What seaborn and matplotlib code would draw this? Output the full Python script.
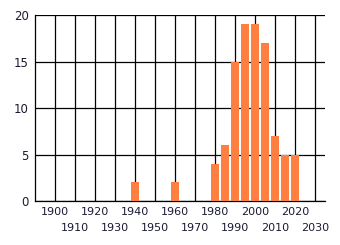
import matplotlib
matplotlib.use("Agg")
import matplotlib.pyplot as plt
import seaborn as sns
import pandas as pd

years = [1940, 1960, 1980, 1985, 1990, 1995, 2000, 2005, 2010, 2015, 2020]
counts = [2, 2, 4, 6, 15, 19, 19, 17, 7, 5, 5]
even_decades = [1900, 1920, 1940, 1960, 1980, 2000, 2020]
odd_decades = [1910, 1930, 1950, 1970, 1990, 2010, 2030]
y_ticks = [0, 5, 10, 15, 20]

df = pd.DataFrame({"year": years, "count": counts})

sns.set_style("white")
plt.rcParams["font.family"] = ["DejaVu Sans"]

fig = plt.figure(figsize=(3.4, 2.45), dpi=100)
ax = fig.add_axes([35/340, 44/245, 290/340, 186/245])

sns.barplot(data=df, x="year", y="count", native_scale=True, width=0.8,
            color="#FF7F40", saturation=1, linewidth=0, ax=ax, zorder=3)

ax.set_xlim(1890, 2035)
ax.set_ylim(0, 20)
ax.set_axisbelow(True)
ax.set_xticks(even_decades)
ax.set_xticklabels([str(d) for d in even_decades], fontsize=8, color="#1a1a33")
ax.set_xticks(odd_decades, minor=True)
ax.set_xticklabels([str(d) for d in odd_decades], minor=True, fontsize=8, color="#1a1a33")
ax.set_yticks(y_ticks)
ax.set_yticklabels([str(v) for v in y_ticks], fontsize=8.5, color="#1a1a33")
ax.grid(True, which="both", axis="x", color="black", linewidth=0.9, zorder=0)
ax.grid(True, which="major", axis="y", color="black", linewidth=0.9, zorder=0)
ax.tick_params(axis="both", which="both", length=3, width=0.9, color="black", pad=1.5)
ax.tick_params(axis="x", which="minor", pad=13)
ax.tick_params(axis="y", which="minor", left=False)
ax.set_xlabel("")
ax.set_ylabel("")
for s in ["top", "right"]:
    ax.spines[s].set_visible(False)
for s in ["left", "bottom"]:
    ax.spines[s].set_visible(True)
    ax.spines[s].set_color("black")
    ax.spines[s].set_linewidth(0.9)

fig.savefig("out.png", dpi=100)
